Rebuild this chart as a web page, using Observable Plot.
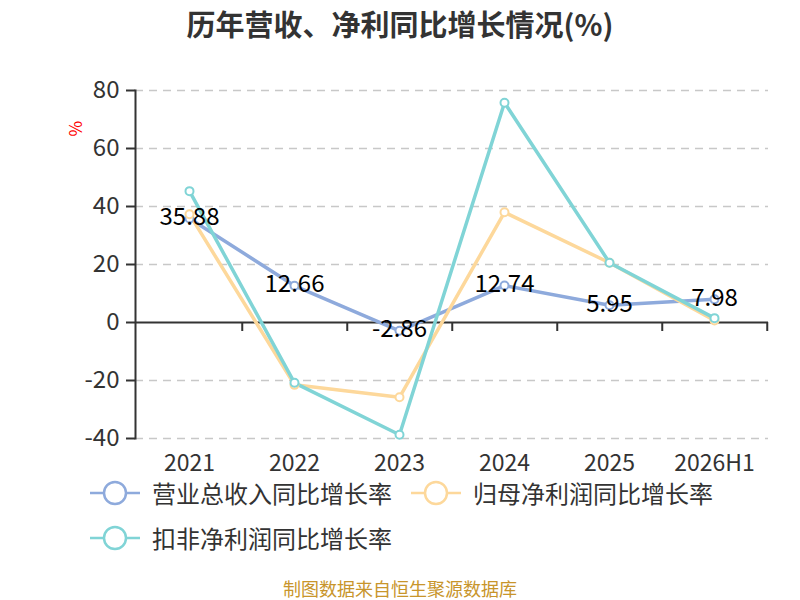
<!DOCTYPE html>
<html>
<head>
<meta charset="utf-8">
<script src="https://cdn.jsdelivr.net/npm/d3@7"></script>
<script src="https://cdn.jsdelivr.net/npm/@observablehq/plot@0.6"></script>
<style>
  body { margin: 0; width: 800px; height: 600px; background: #fff; font-family: "Noto Sans CJK SC", "Noto Sans", sans-serif; overflow: hidden; }
  #title { height: 46px; line-height: 46px; text-align: center; font-size: 29px; font-weight: bold; color: #333; }
  #chart svg { display: block; }
  #legend { position: relative; height: 97px; }
  .item { position: absolute; height: 26px; display: flex; align-items: center; font-size: 24px; line-height: 26px; color: #333; white-space: nowrap; }
  .item svg { margin-right: 12px; flex: none; }
  #caption { height: 23px; line-height: 23px; text-align: center; font-size: 18px; color: #c8952b; }
</style>
</head>
<body>
<div id="title">历年营收、净利同比增长情况(%)</div>
<div id="chart"></div>
<div id="legend"></div>
<div id="caption">制图数据来自恒生聚源数据库</div>
<script>
const categories = ["2021", "2022", "2023", "2024", "2025", "2026H1"];
const seriesNames = ["营业总收入同比增长率", "归母净利润同比增长率", "扣非净利润同比增长率"];
const revenueGrowth = [35.88, 12.66, -2.86, 12.74, 5.95, 7.98];
const netProfitGrowth = [37.3, -21.5, -25.8, 38.0, 20.6, 0.7];
const deductedProfitGrowth = [45.3, -20.8, -38.7, 75.8, 20.6, 1.5];
const colors = ["#8eaadc", "#fdd89b", "#80d4d6"];
const yTicks = [-40, -20, 0, 20, 40, 60, 80];

const seriesValues = [revenueGrowth, netProfitGrowth, deductedProfitGrowth];
const data = seriesValues.flatMap((vals, s) =>
  vals.map((v, i) => ({ cat: categories[i], value: v, series: seriesNames[s] })));
const revData = data.filter(d => d.series === seriesNames[0]);

const W = 800, H = 434, mL = 135, mR = 32;
const halfStep = (W - mL - mR) / categories.length / 2;

const chart = Plot.plot({
  width: W, height: H,
  marginTop: 44, marginBottom: 42, marginLeft: mL, marginRight: mR,
  style: { fontFamily: "'Noto Sans CJK SC', 'Noto Sans', sans-serif", background: "transparent" },
  x: { type: "point", domain: categories, padding: 0.5, axis: null },
  y: { domain: [-40, 80], axis: null },
  color: { domain: seriesNames, range: colors },
  marks: [
    Plot.ruleY(yTicks.filter(t => t !== 0), { stroke: "#c8c8c8", strokeWidth: 1.5, strokeDasharray: "8,6" }),
    Plot.axisY({ ticks: yTicks, tickSize: 9, tickPadding: 7, label: null, fontSize: 24, color: "#333", stroke: "#333", strokeWidth: 2, tickFormat: d => String(d) }),
    Plot.axisX({ ticks: categories, tickSize: 0, tickPadding: 16, label: null, fontSize: 23, color: "#333" }),
    Plot.frame({ anchor: "left", stroke: "#333", strokeWidth: 2 }),
    Plot.ruleY([0], { stroke: "#333", strokeWidth: 2 }),
    Plot.ruleX(categories, { x: d => d, y1: 0, y2: -3.1, dx: halfStep, stroke: "#333", strokeWidth: 2 }),
    Plot.line(data, { x: "cat", y: "value", z: "series", stroke: "series", strokeWidth: 3.5 }),
    Plot.dot(data, { x: "cat", y: "value", stroke: "series", fill: "white", r: 4, strokeWidth: 2 }),
    Plot.text(revData, { x: "cat", y: "value", text: d => d.value.toFixed(2), fontSize: 24, fill: "#000", dy: -1 }),
    Plot.text(["%"], { frameAnchor: "top-left", dx: -66, dy: 46, rotate: -90, fill: "red", fontSize: 17 })
  ]
});
document.getElementById("chart").appendChild(chart);

const legend = document.getElementById("legend");
const positions = [[90, 0], [411, 0], [90, 45]];
seriesNames.forEach((name, i) => {
  const item = document.createElement("div");
  item.className = "item";
  item.style.left = positions[i][0] + "px";
  item.style.top = positions[i][1] + "px";
  const c = colors[i];
  item.innerHTML = `<svg width="50" height="26"><line x1="0" y1="13" x2="50" y2="13" stroke="${c}" stroke-width="2.5"/><circle cx="25" cy="13" r="11" fill="white" stroke="${c}" stroke-width="2.5"/></svg><span>${name}</span>`;
  legend.appendChild(item);
});
</script>
</body>
</html>
